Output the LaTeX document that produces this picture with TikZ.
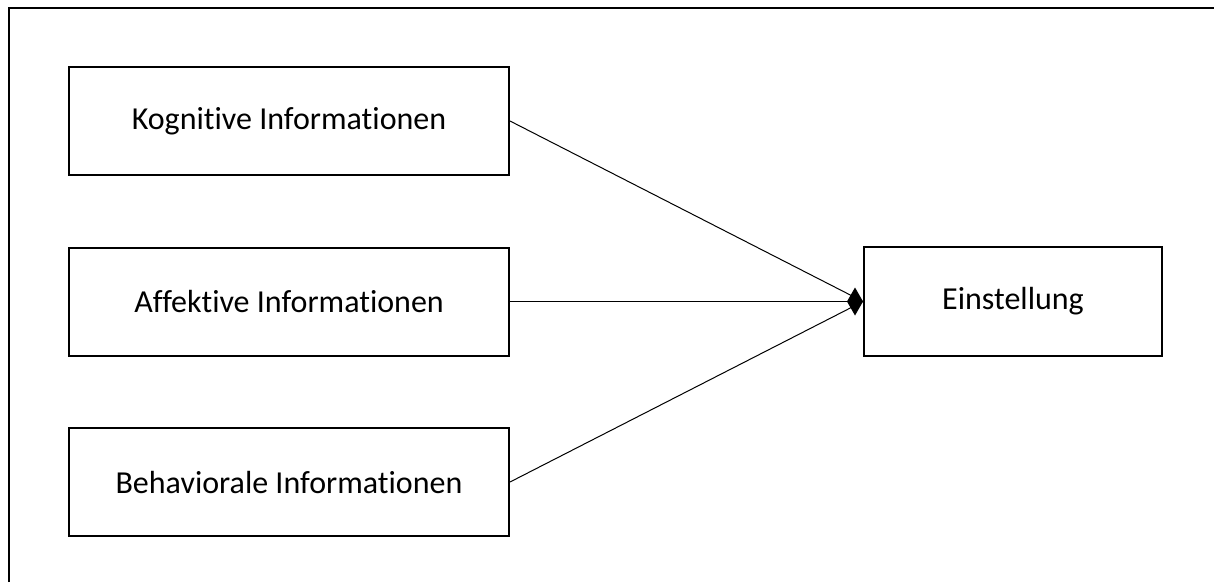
\documentclass[tikz,border=0pt]{standalone}
\usepackage{fontspec}
\setmainfont{Carlito}[Ligatures=NoCommon]
\usetikzlibrary{arrows.meta}
\begin{document}
\begin{tikzpicture}[x=1pt,y=-1pt,
  infobox/.style={draw=black, line width=2pt, fill=white, minimum width=440pt,
    minimum height=108pt, inner sep=0pt, font=\fontsize{32}{38}\selectfont},
  targetbox/.style={infobox, minimum width=298pt, minimum height=109pt},
  link/.style={draw=black, line width=1pt},
  tipped/.style={link, -{Diamond[length=16pt,width=28pt]}}]
  \useasboundingbox (0,0) rectangle (1214,582);
  % outer frame (open towards the right and bottom edges)
  \draw[line width=2pt] (9,582) -- (9,8) -- (1214,8);
  % information sources
  \node[infobox] (kog) at (289,121) {Kognitive Informationen};
  \node[infobox] (aff) at (289,301.5) {Affektive Informationen};
  \node[infobox] (beh) at (289,482) {Behaviorale Informationen};
  % resulting attitude
  \node[targetbox] (ein) at (1013,301.5) {Einstellung};
  % connectors
  \draw[link] (kog.east) -- (ein.west);
  \draw[link] (beh.east) -- (ein.west);
  \draw[tipped] (aff.east) -- (ein.west);
\end{tikzpicture}
\end{document}
